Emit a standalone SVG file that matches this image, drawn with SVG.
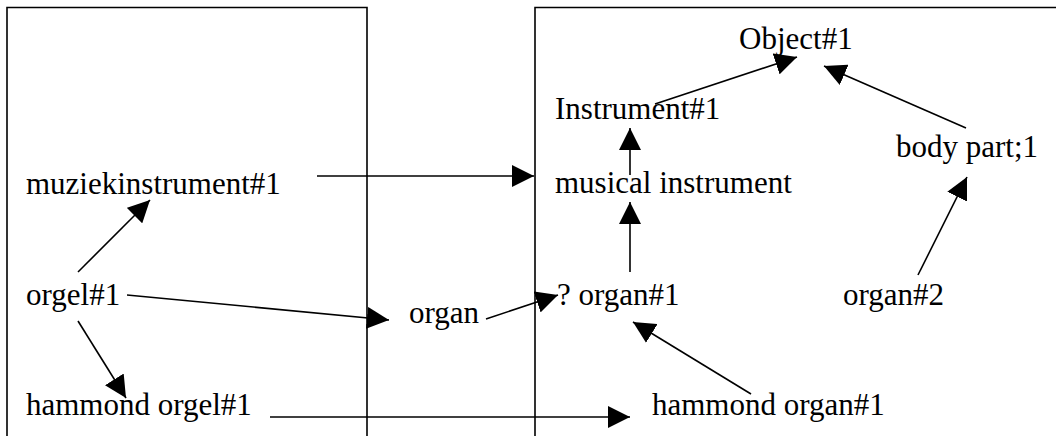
<svg xmlns="http://www.w3.org/2000/svg" width="1056" height="436" viewBox="0 0 1056 436">
<style>
text{font-family:"Liberation Serif","Times New Roman",serif;font-size:31px;fill:#000}
.frame{fill:none;stroke:#000;stroke-width:1.6}
.c{fill:none;stroke:#000;stroke-width:1.6;marker-end:url(#ah)}
</style>
<defs>
<marker id="ah" markerUnits="userSpaceOnUse" markerWidth="22" markerHeight="22" viewBox="0 0 20 20" refX="20" refY="10" orient="auto">
<path d="M0,0 L20,10 L0,20 Z" fill="#000"/>
</marker>
</defs>
<rect width="1056" height="436" fill="#fff"/>
<g id="frames">
<path class="frame" d="M7,437 V7.5 H367 V437"/>
<path class="frame" d="M535,437 V7.5 H1060"/>
</g>
<g id="connectors">
<line class="c" x1="655" y1="104" x2="797" y2="57"/>
<line class="c" x1="966" y1="128" x2="824" y2="66"/>
<line class="c" x1="630" y1="175" x2="630" y2="128"/>
<line class="c" x1="630" y1="272" x2="630" y2="202"/>
<line class="c" x1="918" y1="275" x2="967" y2="177"/>
<line class="c" x1="317" y1="176" x2="534" y2="176"/>
<line class="c" x1="78" y1="272" x2="150" y2="200"/>
<line class="c" x1="127" y1="295" x2="389" y2="320"/>
<line class="c" x1="486" y1="319" x2="558" y2="295"/>
<line class="c" x1="78" y1="321" x2="126" y2="398"/>
<line class="c" x1="270" y1="417" x2="630" y2="417"/>
<line class="c" x1="751" y1="394" x2="633" y2="322"/>
</g>
<g id="n-object1"><text x="739" y="49">Object#1</text></g>
<g id="n-instrument1"><text x="555" y="119">Instrument#1</text></g>
<g id="n-bodypart1"><text x="896" y="157">body part;1</text></g>
<g id="n-muziekinstrument1"><text x="26" y="194">muziekinstrument#1</text></g>
<g id="n-musicalinstrument"><text x="555" y="193">musical instrument</text></g>
<g id="n-orgel1"><text x="26" y="305">orgel#1</text></g>
<g id="n-organ"><text x="409" y="323">organ</text></g>
<g id="n-organ1"><text x="557" y="305">? organ#1</text></g>
<g id="n-organ2"><text x="843" y="305">organ#2</text></g>
<g id="n-hammondorgel1"><text x="26" y="415">hammond orgel#1</text></g>
<g id="n-hammondorgan1"><text x="652" y="415">hammond organ#1</text></g>
</svg>
